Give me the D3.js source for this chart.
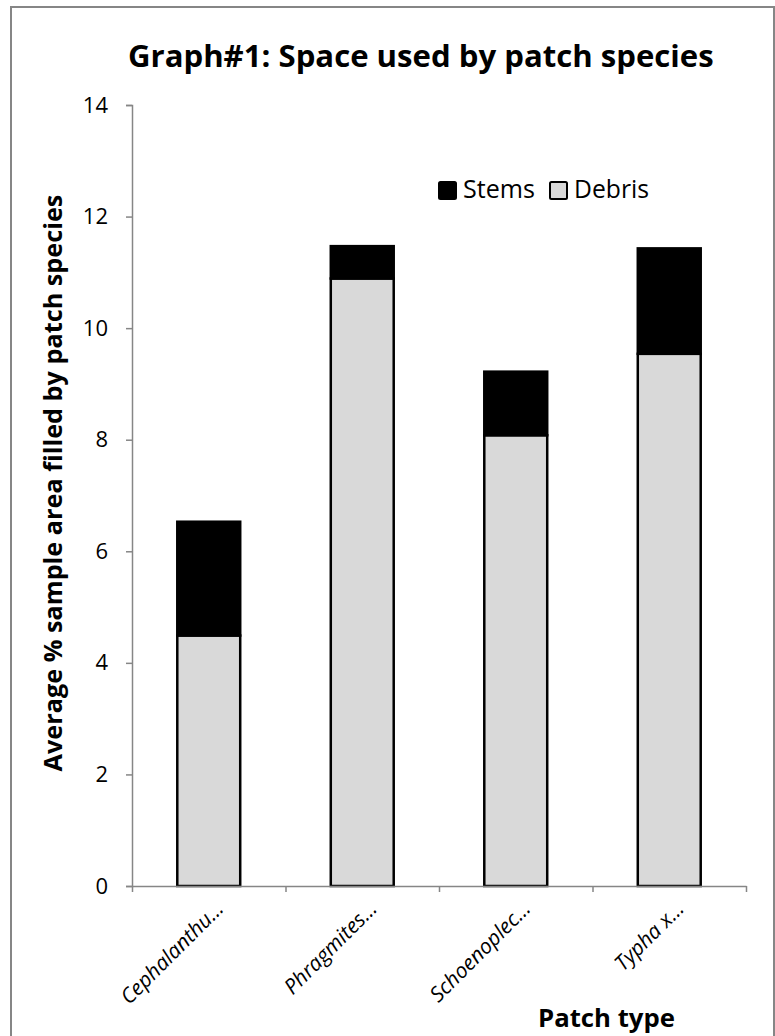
<!DOCTYPE html>
<html>
<head>
<meta charset="utf-8">
<script src="https://cdn.jsdelivr.net/npm/d3@7"></script>
<style>
  body { margin: 0; background: #fff; }
  text { font-family: "Open Sans", "Noto Sans", sans-serif; fill: #000; }
</style>
</head>
<body>
<svg id="chart" width="775" height="1036"></svg>
<script>
// data
var categories = ["Cephalanthu…", "Phragmites…", "Schoenoplec…", "Typha x…"]
var debris = [4.49, 10.89, 8.08, 9.54]
var stems = [2.04, 0.58, 1.14, 1.89]
var yTicks = [0, 2, 4, 6, 8, 10, 12, 14]
var seriesNames = ["Stems", "Debris"]

var svg = d3.select("#chart")

var xleft = 132
var xright = 746
var ytop = 105
var ybottom = 886
var axisColor = "#868686"

// shrink/grow font so text spans a target width
function fitText(sel, width) {
    sel.attr("font-size", 20)
    var len = sel.node().getComputedTextLength()
    sel.attr("font-size", 20 * width / len)
}

svg.append("rect")
    .attr("x", 11).attr("y", 7)
    .attr("width", 763).attr("height", 1060)
    .attr("fill", "white")
    .attr("stroke", axisColor)
    .attr("stroke-width", 2)

var x = d3.scaleBand()
    .domain(categories)
    .range([xleft, xright])
    .paddingInner(0.59)
    .paddingOuter(0.295)

var xEdge = d3.scaleLinear()
    .domain([0, categories.length])
    .range([xleft, xright])

var y = d3.scaleLinear()
    .domain([0, 14])
    .range([ybottom, ytop])

// bars: debris at the bottom, stems stacked on top
var bars = svg.append("g").attr("id", "bars")
bars.selectAll("rect.debris")
    .data(debris)
    .enter()
    .append("rect")
    .attr("class", "debris")
    .attr("x", function(d, i) { return x(categories[i]) })
    .attr("y", function(d) { return y(d) })
    .attr("width", x.bandwidth())
    .attr("height", function(d) { return y(0) - y(d) })
    .attr("fill", "#d9d9d9")
    .attr("stroke", "black")
    .attr("stroke-width", 2.5)

bars.selectAll("rect.stems")
    .data(stems)
    .enter()
    .append("rect")
    .attr("class", "stems")
    .attr("x", function(d, i) { return x(categories[i]) })
    .attr("y", function(d, i) { return y(debris[i] + d) })
    .attr("width", x.bandwidth())
    .attr("height", function(d, i) { return y(debris[i]) - y(debris[i] + d) })
    .attr("fill", "black")
    .attr("stroke", "black")
    .attr("stroke-width", 2.5)

// y axis
var yAxis = d3.axisLeft(y)
    .tickValues(yTicks)
    .tickSize(6)
    .tickPadding(18)
var ya = svg.append("g")
    .attr("transform", "translate(" + xleft + ",0)")
    .call(yAxis)
ya.selectAll("path, line").attr("stroke", axisColor).attr("stroke-width", 1.5)
ya.selectAll("text")
    .attr("font-family", "Open Sans")
    .attr("font-size", 22)
    .attr("fill", "black")

// x axis: ticks between the categories
var xAxis = d3.axisBottom(xEdge)
    .tickValues(d3.range(categories.length + 1))
    .tickFormat("")
    .tickSize(6)
    .tickSizeOuter(0)
var xa = svg.append("g")
    .attr("transform", "translate(0," + ybottom + ")")
    .call(xAxis)
xa.selectAll("path, line").attr("stroke", axisColor).attr("stroke-width", 1.5)

// slanted category labels
svg.append("g").selectAll("text")
    .data(categories)
    .enter()
    .append("text")
    .attr("font-size", 21)
    .attr("font-style", "italic")
    .attr("text-anchor", "end")
    .attr("transform", function(d) {
        var cx = x(d) + x.bandwidth() / 2 + 16
        return "translate(" + cx + "," + (ybottom + 24) + ") rotate(-45)"
    })
    .text(function(d) { return d })

// title
var title = svg.append("text")
    .attr("x", 128).attr("y", 67)
    .attr("font-weight", "bold")
    .text("Graph#1: Space used by patch species")
fitText(title, 586)

// y title
var ytitle = svg.append("text")
    .attr("transform", "translate(62,483) rotate(-90)")
    .attr("text-anchor", "middle")
    .attr("font-weight", "bold")
    .text("Average % sample area filled by patch species")
fitText(ytitle, 577)

// x title
var xtitle = svg.append("text")
    .attr("x", 538).attr("y", 1027)
    .attr("font-weight", "bold")
    .text("Patch type")
fitText(xtitle, 137)

// legend
var legendX = [438, 549]
var legendTextW = [72, 75]
var legendFill = ["black", "#d9d9d9"]
var legend = svg.append("g").attr("id", "legend")
seriesNames.forEach(function(name, i) {
    legend.append("rect")
        .attr("x", legendX[i] + 1).attr("y", 182)
        .attr("width", 17).attr("height", 17)
        .attr("rx", 1.5)
        .attr("fill", legendFill[i])
        .attr("stroke", "black")
        .attr("stroke-width", 2)
    var t = legend.append("text")
        .attr("x", legendX[i] + 25).attr("y", 198)
        .text(name)
    fitText(t, legendTextW[i])
})
</script>
</body>
</html>
